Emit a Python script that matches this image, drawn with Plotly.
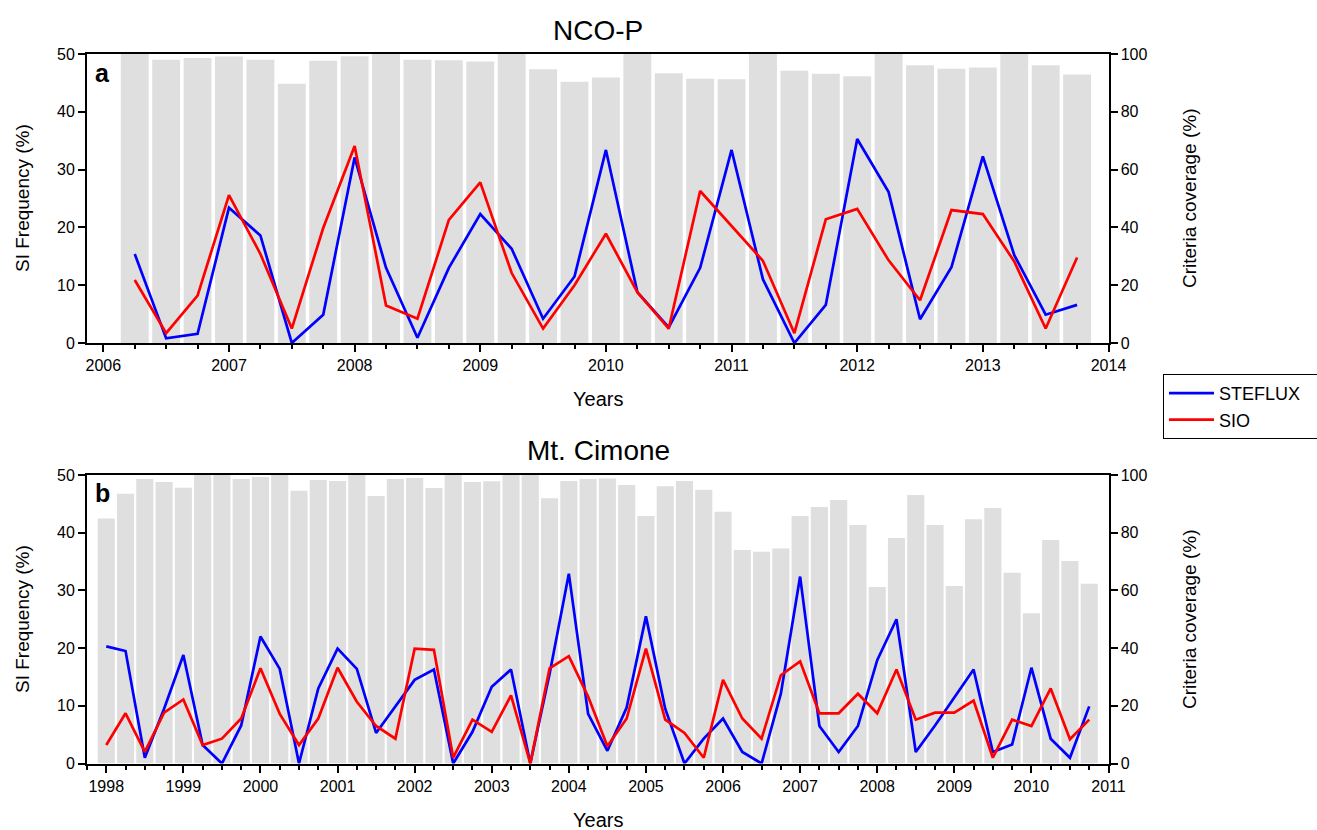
import plotly.graph_objects as go

# ---------------- data ----------------
# NCO-P (quarterly, 2006.25 .. 2013.75)
nco_start = 2006.25
nco_steflux = [15.4, 0.8, 1.6, 23.4, 18.6, 0.0, 4.9, 32.1, 13.0, 0.9,
               13.0, 22.3, 16.3, 4.2, 11.5, 33.4, 8.8, 2.7, 13.0, 33.4,
               11.0, 0.0, 6.6, 35.3, 26.1, 4.1, 13.1, 32.3, 15.2, 4.9, 6.6]
nco_sio = [10.9, 1.7, 8.2, 25.6, 15.4, 2.5, 19.9, 34.1, 6.5, 4.2,
           21.3, 27.8, 12.1, 2.5, 10.0, 18.9, 8.8, 2.5, 26.3, 20.3,
           14.2, 1.7, 21.4, 23.2, 14.3, 7.4, 23.0, 22.3, 14.1, 2.5, 14.8]
nco_coverage = [100, 98.0, 98.6, 99.1, 98.0, 89.7, 97.7, 99.2, 100, 98.0,
                97.8, 97.4, 100, 94.7, 90.4, 91.9, 100, 93.3, 91.4, 91.3,
                100, 94.2, 93.2, 92.3, 100, 96.1, 94.9, 95.3, 100, 96.1, 92.9]

# Mt. Cimone (quarterly, 1998.0 .. 2010.75)
cmn_start = 1998.0
cmn_steflux = [20.3, 19.5, 1.0, 9.5, 18.8, 3.2, 0.0, 6.6, 22.0, 16.4,
               0.0, 13.0, 19.9, 16.4, 5.3, 9.8, 14.5, 16.3, 0.0, 5.5,
               13.3, 16.3, 0.0, 15.5, 32.9, 8.6, 2.2, 9.7, 25.5, 9.5,
               0.0, 4.3, 7.8, 2.0, 0.0, 12.1, 32.4, 6.5, 2.0, 6.5,
               17.9, 25.0, 2.0, 6.6, 11.4, 16.3, 2.0, 3.3, 16.6, 4.3, 1.0, 9.9]
cmn_sio = [3.2, 8.7, 2.0, 8.8, 11.1, 3.2, 4.3, 7.8, 16.5, 8.6,
           3.2, 7.8, 16.6, 10.7, 6.5, 4.3, 19.9, 19.7, 1.0, 7.6,
           5.5, 11.8, 0.0, 16.5, 18.6, 11.6, 3.0, 7.8, 19.9, 7.6,
           5.3, 1.0, 14.5, 7.8, 4.3, 15.3, 17.7, 8.7, 8.7, 12.1,
           8.7, 16.3, 7.6, 8.8, 8.8, 10.9, 1.0, 7.6, 6.5, 13.0, 4.2, 7.6]
cmn_coverage = [84.9, 93.5, 98.6, 97.6, 95.6, 100, 100, 98.6, 99.3, 100,
                94.5, 98.3, 97.9, 100, 92.7, 98.6, 99.0, 95.5, 100, 97.6,
                97.8, 100, 100, 91.9, 97.9, 98.6, 98.8, 96.5, 85.8, 96.1,
                97.9, 94.9, 87.3, 74.0, 73.4, 74.5, 85.8, 88.9, 91.3, 82.7,
                61.2, 78.2, 93.1, 82.7, 61.5, 84.7, 88.6, 66.1, 52.1, 77.5,
                70.2, 62.3]

nco_t = [nco_start + 0.25 * i for i in range(len(nco_steflux))]
cmn_t = [cmn_start + 0.25 * i for i in range(len(cmn_steflux))]

# ---------------- figure ----------------
W, H = 1317, 830
FONT = "Arial, Liberation Sans, sans-serif"
BAR = "#dfdfdf"
BLUE = "#0000ff"
RED = "#ff0000"

fig = go.Figure()

def add_panel(t, cov, stf, sio, xa, ybar, yline, show_leg):
    fig.add_trace(go.Bar(x=t, y=cov, width=0.222, marker=dict(color=BAR, line=dict(width=0)),
                         xaxis=xa, yaxis=ybar, showlegend=False, hoverinfo="skip"))
    fig.add_trace(go.Scatter(x=t, y=stf, mode="lines", name="STEFLUX   ",
                             line=dict(color=BLUE, width=2.7), xaxis=xa, yaxis=yline,
                             showlegend=show_leg))
    fig.add_trace(go.Scatter(x=t, y=sio, mode="lines", name="SIO",
                             line=dict(color=RED, width=2.7), xaxis=xa, yaxis=yline,
                             showlegend=show_leg))

add_panel(nco_t, nco_coverage, nco_steflux, nco_sio, "x", "y", "y2", True)
add_panel(cmn_t, cmn_coverage, cmn_steflux, cmn_sio, "x2", "y3", "y4", False)

xdom = [87 / W, 1108.5 / W]
top_dom = [(H - 343) / H, (H - 54) / H]
bot_dom = [(H - 763.5) / H, (H - 475) / H]

tickfont = dict(family=FONT, size=16, color="black")

def xaxis_cfg(rng, anchor):
    return dict(domain=xdom, range=rng, anchor=anchor, showline=True, linecolor="black",
                linewidth=2, mirror=True, ticks="outside", ticklen=7, tickwidth=1.5,
                tickcolor="black", dtick=1, tick0=2000, showgrid=False, zeroline=False,
                tickfont=tickfont, automargin=False,
                minor=dict(dtick=0.25, tick0=2000, ticks="outside", ticklen=4,
                           tickwidth=1.5, tickcolor="black", showgrid=False))

def ybar_cfg(dom, anchor):
    return dict(domain=dom, range=[0, 100], anchor=anchor, side="right", showline=True,
                linecolor="black", linewidth=2, ticks="outside", ticklen=7, tickwidth=1.5,
                tickcolor="black", dtick=20, showgrid=False, zeroline=False, tickfont=tickfont,
                automargin=False)

def yline_cfg(overlay, anchor):
    return dict(overlaying=overlay, range=[0, 50], anchor=anchor, side="left", showline=True,
                linecolor="black", linewidth=2, ticks="outside", ticklen=7, tickwidth=1.5,
                tickcolor="black", dtick=10, showgrid=False, zeroline=False, tickfont=tickfont,
                automargin=False)

fig.update_layout(
    width=W, height=H,
    margin=dict(l=0, r=0, t=0, b=0, autoexpand=False),
    paper_bgcolor="white", plot_bgcolor="white",
    font=dict(family=FONT, color="black"),
    barmode="overlay",
    xaxis=xaxis_cfg([2005.87, 2014], "y"),
    yaxis=ybar_cfg(top_dom, "x"),
    yaxis2=yline_cfg("y", "x"),
    xaxis2=xaxis_cfg([1997.75, 2011], "y3"),
    yaxis3=ybar_cfg(bot_dom, "x2"),
    yaxis4=yline_cfg("y3", "x2"),
    legend=dict(x=1163 / W, y=(H - 374) / H, xanchor="left", yanchor="top",
                bordercolor="black", borderwidth=1, bgcolor="white",
                font=dict(family=FONT, size=18, color="black"),
                tracegroupgap=0, itemwidth=45),
    showlegend=True,
)

def ann(text, x, y, size, angle=0, bold=False):
    fig.add_annotation(text=("<b>%s</b>" % text) if bold else text,
                       x=x / W, y=(H - y) / H, xref="paper", yref="paper",
                       showarrow=False, textangle=angle,
                       font=dict(family=FONT, size=size, color="black"),
                       xanchor="center", yanchor="middle")

ann("NCO-P", 598, 30, 28)
ann("Mt. Cimone", 598, 450, 28)
ann("Years", 598, 399, 20)
ann("Years", 598, 820, 20)
ann("SI Frequency (%)", 22, 198, 19, angle=-90)
ann("SI Frequency (%)", 22, 619, 19, angle=-90)
ann("Criteria coverage (%)", 1189, 198, 19, angle=-90)
ann("Criteria coverage (%)", 1189, 619, 19, angle=-90)
ann("a", 102, 73, 25, bold=True)
ann("b", 102, 493, 25, bold=True)

fig.write_html("out.html",
               config={"displayModeBar": False},
               post_script="document.body.style.margin='0px';"
                           "document.body.style.overflow='hidden';")
